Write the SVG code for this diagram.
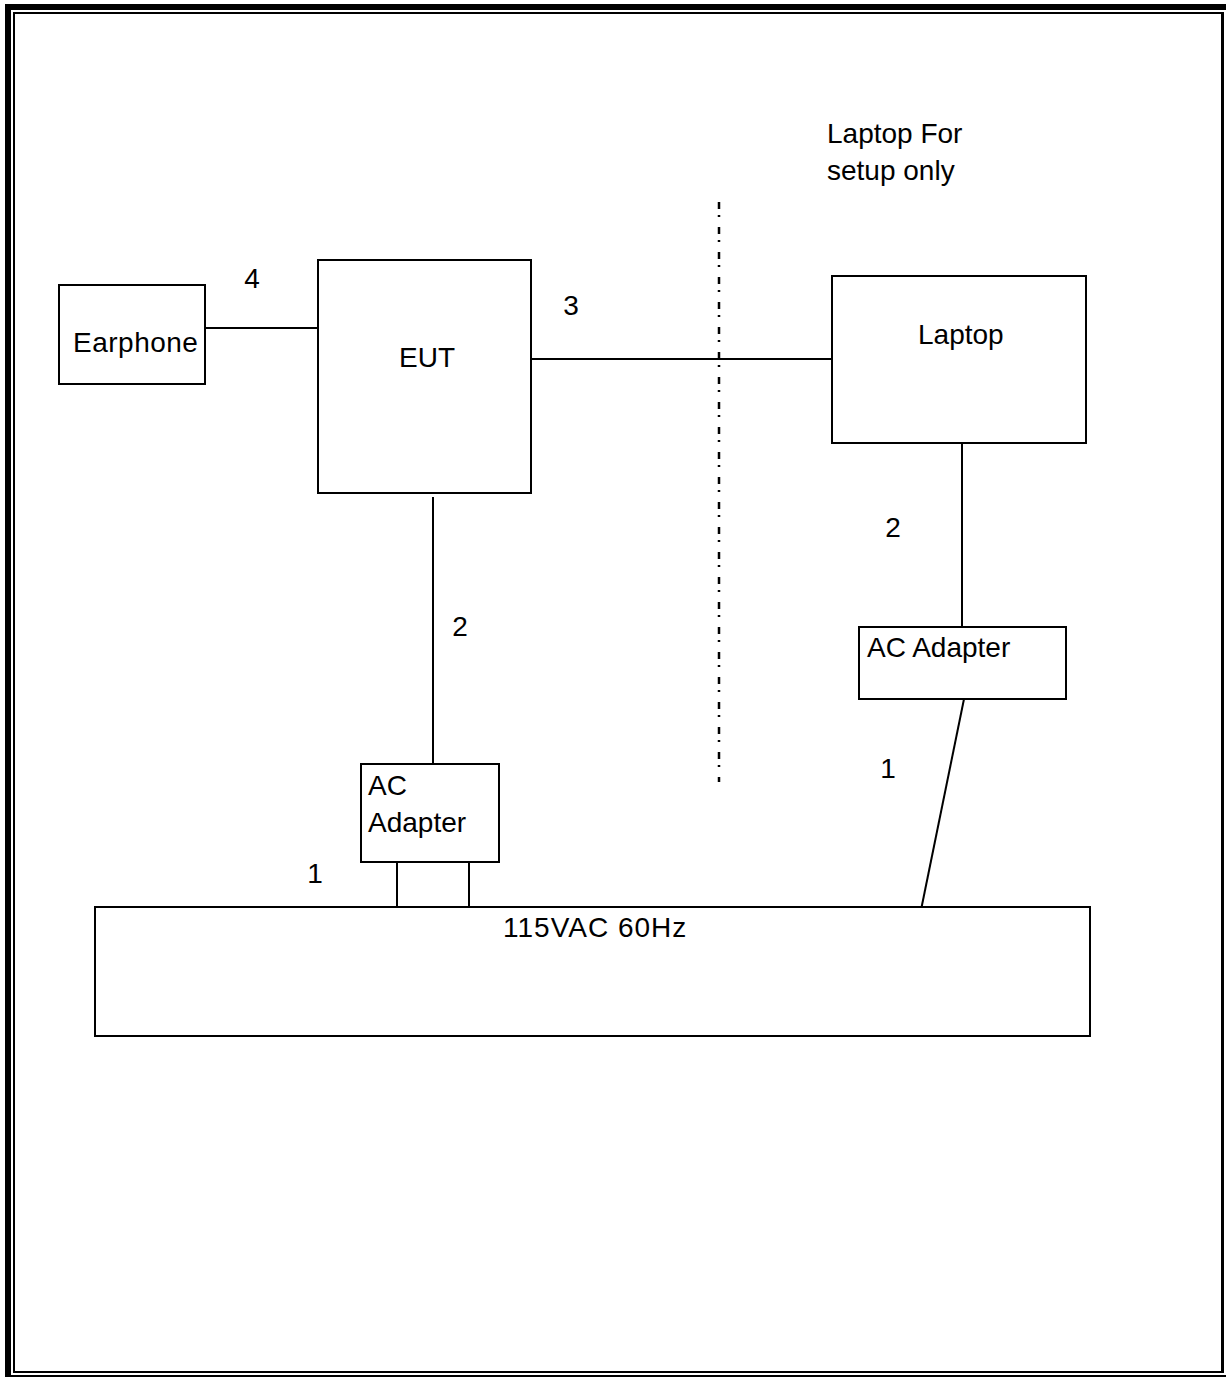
<svg xmlns="http://www.w3.org/2000/svg" width="1226" height="1377" viewBox="0 0 1226 1377">
<style>
.box{fill:#fff;stroke:#000;stroke-width:2}
.ln{fill:none;stroke:#000;stroke-width:2}
.t{font-family:"Liberation Sans",Arial,sans-serif;font-size:28px;fill:#000}
</style>
<rect width="1226" height="1377" fill="#fff"/>
<g id="frame">
<rect x="5" y="4" width="1221" height="6" fill="#000"/>
<rect x="5" y="4" width="6" height="1373" fill="#000"/>
<rect x="13" y="12" width="1210" height="2" fill="#000"/>
<rect x="13" y="12" width="2" height="1361" fill="#000"/>
<rect x="1221" y="12" width="3" height="1361" fill="#000"/>
<rect x="13" y="1371" width="1211" height="2" fill="#000"/>
<rect x="5" y="1375" width="1221" height="2" fill="#000"/>
</g>
<g id="connectors">
<line class="ln" x1="205" y1="328" x2="318" y2="328"/>
<line class="ln" x1="531" y1="359" x2="832" y2="359"/>
<line class="ln" x1="433" y1="497" x2="433" y2="764"/>
<line class="ln" x1="397" y1="862" x2="397" y2="907"/>
<line class="ln" x1="469" y1="862" x2="469" y2="907"/>
<line class="ln" x1="962" y1="443" x2="962" y2="627"/>
<line class="ln" x1="964" y1="699" x2="921" y2="910"/>
<line x1="719" y1="202" x2="719" y2="782" stroke="#000" stroke-width="2.5" stroke-dasharray="7 6 2 10"/>
</g>
<g id="earphone"><rect class="box" x="59" y="285" width="146" height="99"/><text class="t" x="73" y="352" letter-spacing="0.5">Earphone</text></g>
<g id="eut"><rect class="box" x="318" y="260" width="213" height="233"/><text class="t" x="427" y="367" text-anchor="middle">EUT</text></g>
<g id="laptop"><rect class="box" x="832" y="276" width="254" height="167"/><text class="t" x="918" y="344">Laptop</text></g>
<g id="ac-adapter-eut"><rect class="box" x="361" y="764" width="138" height="98"/><text class="t" x="368" y="795">AC</text><text class="t" x="368" y="832">Adapter</text></g>
<g id="ac-adapter-laptop"><rect class="box" x="859" y="627" width="207" height="72"/><text class="t" x="867" y="657">AC Adapter</text></g>
<g id="power"><rect class="box" x="95" y="907" width="995" height="129"/><text class="t" x="503" y="937" letter-spacing="1">115VAC 60Hz</text></g>
<g id="labels">
<text class="t" x="827" y="143">Laptop For</text>
<text class="t" x="827" y="180">setup only</text>
<text class="t" x="252" y="288" text-anchor="middle">4</text>
<text class="t" x="571" y="315" text-anchor="middle">3</text>
<text class="t" x="460" y="636" text-anchor="middle">2</text>
<text class="t" x="893" y="537" text-anchor="middle">2</text>
<text class="t" x="315" y="883" text-anchor="middle">1</text>
<text class="t" x="888" y="778" text-anchor="middle">1</text>
</g>
</svg>
